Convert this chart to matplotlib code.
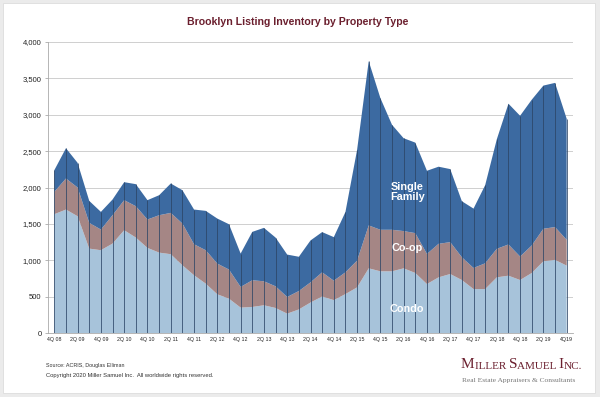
import numpy as np
import matplotlib
matplotlib.use('Agg')
from matplotlib import pyplot as plt
from matplotlib.patches import Rectangle

plt.rcParams['font.family'] = ['Liberation Sans', 'DejaVu Sans']

# 4Q 08 ... 4Q 19, one value per quarter
condo = [1633, 1697, 1605, 1160, 1138, 1229, 1413, 1312, 1170, 1105, 1083, 931, 794, 679, 532,
         472, 349, 358, 381, 344, 266, 324, 419, 502, 452, 535, 627, 889, 848, 848, 889, 825,
         673, 765, 811, 728, 604, 604, 765, 788, 728, 825, 986, 1005, 926]
coop = [307, 427, 395, 354, 284, 390, 413, 431, 390, 514, 568, 574, 426, 459, 422,
        400, 284, 367, 330, 298, 229, 253, 277, 332, 267, 299, 368, 590, 571, 571, 512, 548,
        414, 461, 438, 313, 290, 354, 392, 429, 323, 378, 447, 451, 355]
single_family = [298, 416, 339, 302, 243, 216, 247, 303, 266, 275, 404, 458, 477, 541, 619,
                 623, 459, 665, 734, 670, 583, 471, 576, 553, 599, 829, 1521, 2258, 1811, 1443,
                 1276, 1244, 1143, 1060, 1004, 770, 816, 1074, 1506, 1935, 1935, 2004, 1968,
                 1982, 1664]
tick_labels = ['4Q 08', '2Q 09', '4Q 09', '2Q 10', '4Q 10', '2Q 11', '4Q 11', '2Q 12', '4Q 12',
               '2Q 13', '4Q 13', '2Q 14', '4Q 14', '2Q 15', '4Q 15', '2Q 16', '4Q 16', '2Q 17',
               '4Q 17', '2Q 18', '4Q 18', '2Q 19', '4Q19']

c_condo = '#a7c3da'
c_coop = '#a58685'
c_sf = '#3c6aa1'

x = np.arange(len(condo))
total = np.array(condo) + np.array(coop) + np.array(single_family)

fig = plt.figure(figsize=(6, 3.97), dpi=100)
fig.patch.set_facecolor('#ebebeb')
fig.patches.append(Rectangle((3 / 600, 4 / 397), 592 / 600, 390 / 397, transform=fig.transFigure,
                             facecolor='white', edgecolor='#dddddd', linewidth=0.6, zorder=-1))

ax = fig.add_axes([48.5 / 600, 1 - 333 / 397, 524 / 600, 291 / 397])
ax.set_zorder(1)
ax.set_facecolor('none')
ax.stackplot(x, condo, coop, single_family, colors=[c_condo, c_coop, c_sf], linewidth=0)
ax.vlines(x, 0, total, colors='#2c4566', linewidth=0.55, zorder=3)

ax.set_xlim(-0.5, len(condo) - 0.5)
ax.set_ylim(0, 4000)
ax.set_yticks(range(0, 4001, 500))
ax.set_yticklabels(['{:,}'.format(v) for v in range(0, 4001, 500)])
ax.set_xticks(x[::2])
ax.set_xticklabels(tick_labels)
ax.grid(axis='y', color='#c8c8c8', linewidth=0.6)
ax.set_axisbelow(True)
for s in ['top', 'right']:
    ax.spines[s].set_visible(False)
for s in ['left', 'bottom']:
    ax.spines[s].set_color('#aaaaaa')
    ax.spines[s].set_linewidth(0.6)
ax.tick_params(axis='y', labelsize=5.5, length=2, width=0.6, color='#aaaaaa', pad=3, labelcolor='#222222')
ax.tick_params(axis='x', labelsize=3.8, length=0, pad=3, labelcolor='#222222')

ax.text(30.3, 1940, 'Single\nFamily', color='white', fontsize=7.8, fontweight='bold',
        ha='center', va='center', linespacing=1.0, zorder=4)
ax.text(30.3, 1166, 'Co-op', color='white', fontsize=7.8, fontweight='bold',
        ha='center', va='center', zorder=4)
ax.text(30.3, 327, 'Condo', color='white', fontsize=7.8, fontweight='bold',
        ha='center', va='center', zorder=4)

fig.text(298 / 600, 1 - 22 / 397, 'Brooklyn Listing Inventory by Property Type', color='#6b1f2e',
         fontsize=7.6, fontweight='bold', ha='center', va='center')

fig.text(46 / 600, 1 - 365 / 397, 'Source: ACRIS, Douglas Elliman', fontsize=3.9,
         color='#333333', va='center')
fig.text(46 / 600, 1 - 375 / 397, 'Copyright 2020 Miller Samuel Inc.  All worldwide rights reserved.',
         fontsize=4.2, color='#333333', va='center')

# logo in small caps, built piece by piece
logo_color = '#6b1f2e'
parts = [('M', 11), ('ILLER ', 8), ('S', 11), ('AMUEL ', 8), ('I', 11), ('NC.', 8)]
prev = fig.text(461 / 600, 1 - 368 / 397, parts[0][0], fontsize=parts[0][1], family='Liberation Serif',
                color=logo_color, va='baseline')
for txt, size in parts[1:]:
    prev = ax.annotate(txt, xy=(1, 0), xycoords=prev, fontsize=size, family='Liberation Serif',
                       color=logo_color, va='bottom', ha='left', annotation_clip=False)
fig.text(462 / 600, 1 - 382 / 397, 'Real Estate Appraisers & Consultants', fontsize=5.4,
         family='Liberation Serif', color='#777777', va='baseline')

plt.savefig('out.png', dpi=100, facecolor=fig.get_facecolor())
